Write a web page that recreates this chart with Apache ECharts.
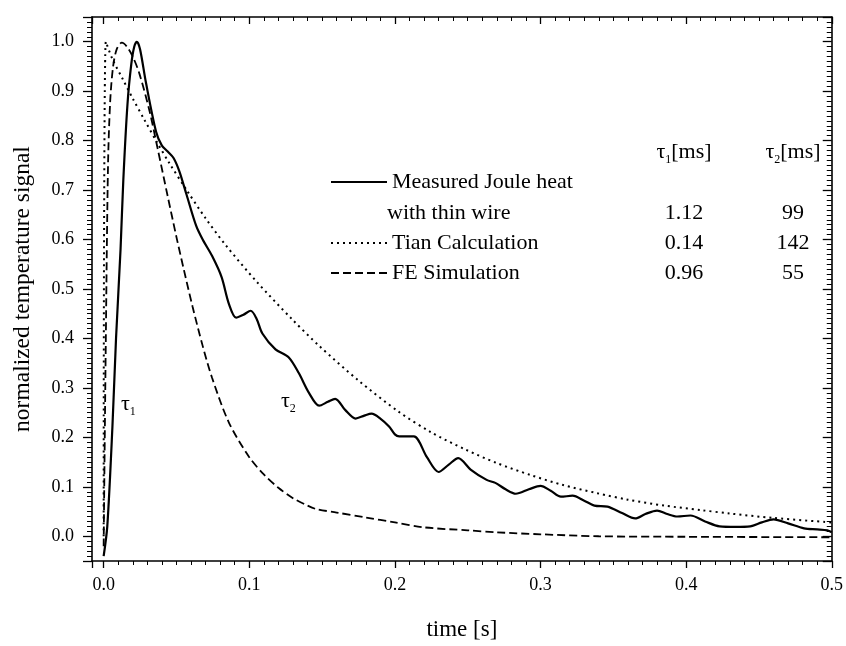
<!DOCTYPE html>
<html><head><meta charset="utf-8">
<script src="https://cdn.jsdelivr.net/npm/echarts@6/dist/echarts.min.js"></script>
<style>html,body{margin:0;padding:0;background:#fff}#c{width:846px;height:646px}</style>
</head><body><div id="c"></div>
<script>
// ---- data ----
const measuredT = [0, 0.0025, 0.006, 0.0085, 0.0116, 0.0135, 0.0164, 0.019, 0.021, 0.0228, 0.025, 0.029, 0.036, 0.040, 0.044, 0.048, 0.052, 0.057, 0.0635, 0.068, 0.0746, 0.081, 0.086, 0.091, 0.096, 0.101, 0.105, 0.109, 0.118, 0.127, 0.134, 0.141, 0.148, 0.154, 0.159, 0.166, 0.173, 0.179, 0.184, 0.19, 0.196, 0.2, 0.203, 0.213, 0.222, 0.23, 0.237, 0.2435, 0.252, 0.263, 0.269, 0.276, 0.283, 0.292, 0.30, 0.307, 0.314, 0.322, 0.33, 0.337, 0.346, 0.356, 0.365, 0.372, 0.380, 0.387, 0.394, 0.403, 0.413, 0.423, 0.434, 0.444, 0.452, 0.460, 0.47, 0.481, 0.49, 0.497, 0.5];
const measuredV = [-0.04, 0.02, 0.22, 0.40, 0.58, 0.72, 0.875, 0.955, 0.99, 1.0, 0.985, 0.918, 0.818, 0.79, 0.778, 0.765, 0.738, 0.69, 0.628, 0.6, 0.566, 0.524, 0.47, 0.442, 0.448, 0.456, 0.44, 0.41, 0.378, 0.362, 0.33, 0.29, 0.264, 0.272, 0.278, 0.255, 0.238, 0.244, 0.248, 0.238, 0.222, 0.206, 0.202, 0.202, 0.16, 0.13, 0.145, 0.158, 0.135, 0.114, 0.108, 0.095, 0.086, 0.095, 0.102, 0.092, 0.08, 0.082, 0.072, 0.062, 0.06, 0.047, 0.036, 0.045, 0.052, 0.045, 0.04, 0.042, 0.03, 0.02, 0.019, 0.02, 0.028, 0.034, 0.026, 0.016, 0.014, 0.012, 0.008];

const tianT = [0, 0.0015, 0.006, 0.013, 0.02, 0.028, 0.036, 0.045, 0.057, 0.07, 0.084, 0.105, 0.129, 0.148, 0.175, 0.2025, 0.225, 0.248, 0.27, 0.293, 0.315, 0.339, 0.36, 0.385, 0.41, 0.43, 0.46, 0.5];
const tianV = [0.0, 1.0, 0.965, 0.925, 0.885, 0.842, 0.8, 0.755, 0.7, 0.643, 0.588, 0.515, 0.44, 0.385, 0.315, 0.252, 0.21, 0.176, 0.148, 0.124, 0.104, 0.087, 0.074, 0.062, 0.053, 0.046, 0.037, 0.028];

const feT = [0, 0.0015, 0.003, 0.0045, 0.0065, 0.009, 0.0125, 0.016, 0.02, 0.0246, 0.0315, 0.037, 0.0438, 0.05, 0.055, 0.061, 0.068, 0.0745, 0.086, 0.1, 0.11, 0.12, 0.13, 0.14, 0.146, 0.16, 0.18, 0.2, 0.22, 0.25, 0.27, 0.3, 0.34, 0.4, 0.5];
const feV = [-0.02, 0.40, 0.75, 0.88, 0.95, 0.985, 0.998, 0.99, 0.97, 0.935, 0.86, 0.785, 0.69, 0.605, 0.54, 0.465, 0.385, 0.32, 0.23, 0.16, 0.125, 0.098, 0.077, 0.062, 0.055, 0.048, 0.038, 0.028, 0.018, 0.012, 0.008, 0.004, 0.0, -0.001, -0.002];

const seriesNames = ['Measured Joule heat', 'Tian Calculation', 'FE Simulation'];
const tableHeaders = ['τ1[ms]', 'τ2[ms]'];
const tau1Values = ['1.12', '0.14', '0.96'];
const tau2Values = ['99', '142', '55'];
const xName = 'time [s]';
const yName = 'normalized temperature signal';

// ---- chart ----
const FONT = "'Liberation Serif', 'Times New Roman', serif";
const zip = (a, b) => a.map((v, i) => [v, b[i]]);
const chart = echarts.init(document.getElementById('c'), null, {renderer: 'canvas'});

const fmt = v => (Math.abs(v * 10 - Math.round(v * 10)) < 1e-6) ? v.toFixed(1) : '';

const common = {
  axisLine: {show: true, onZero: false, lineStyle: {color: '#000', width: 1.6}},
  splitLine: {show: false},
  minorTick: {show: true, splitNumber: 10, length: 4, lineStyle: {color: '#000', width: 1}},
  axisTick: {show: true, length: 8, lineStyle: {color: '#000', width: 1.3}}
};

const xBase = {type: 'value', min: -0.008, max: 0.5, splitNumber: 5, minInterval: 0.1, maxInterval: 0.1};
const yBase = {type: 'value', min: -0.05, max: 1.05, splitNumber: 11, minInterval: 0.1, maxInterval: 0.1};

function tauRich(t) {
  return '{a|τ}{s|' + t.charAt(1) + '}{a|' + t.slice(2) + '}';
}
const rich = {
  a: {fontSize: 22, fontFamily: FONT, fill: '#000', lineHeight: 28, verticalAlign: 'middle'},
  s: {fontSize: 12, fontFamily: FONT, fill: '#000', lineHeight: 14, verticalAlign: 'bottom'}
};

const graphics = [];
function txt(text, x, y, align) {
  graphics.push({type: 'text', x: x, y: y, silent: true,
    style: {text: text, font: '22px ' + FONT, fill: '#000', align: align || 'left', verticalAlign: 'middle'}});
}
function richTxt(text, x, y, align) {
  graphics.push({type: 'text', x: x, y: y, silent: true,
    style: {text: text, rich: rich, fill: '#000', font: '22px ' + FONT, align: align || 'left', verticalAlign: 'middle'}});
}
// table
const col1 = 684, col2 = 793;
const rowY = [152, 182, 213, 243, 273];
richTxt(tauRich(tableHeaders[0]), col1, rowY[0], 'center');
richTxt(tauRich(tableHeaders[1]), col2, rowY[0], 'center');
txt('with thin wire', 387, rowY[2]);
txt(tau1Values[0], col1, rowY[2], 'center');
txt(tau2Values[0], col2, rowY[2], 'center');
txt(tau1Values[1], col1, rowY[3], 'center');
txt(tau2Values[1], col2, rowY[3], 'center');
txt(tau1Values[2], col1, rowY[4], 'center');
txt(tau2Values[2], col2, rowY[4], 'center');
// curve annotations
richTxt('{a|τ}{s|1}', 121, 404, 'left');
richTxt('{a|τ}{s|2}', 281, 401, 'left');

function legendAt(name, top) {
  return {data: [name], left: 330, top: top, padding: 0, itemWidth: 56, itemHeight: 14,
    selectedMode: false, itemStyle: {opacity: 0},
    textStyle: {fontSize: 22, fontFamily: FONT, color: '#000', padding: [0, 0, 0, 0]}};
}

chart.setOption({
  animation: false,
  backgroundColor: '#fff',
  grid: {left: 92, right: 11, top: 17, bottom: 78, containLabel: false},
  legend: [legendAt(seriesNames[0], rowY[1] - 11), legendAt(seriesNames[1], rowY[3] - 11), legendAt(seriesNames[2], rowY[4] - 11)],
  xAxis: [
    Object.assign({}, xBase, common, {position: 'bottom', name: xName, nameLocation: 'middle', nameGap: 57,
      nameTextStyle: {fontSize: 23, fontFamily: FONT, color: '#000'},
      axisTick: Object.assign({}, common.axisTick, {length: 7}),
      minorTick: Object.assign({}, common.minorTick, {length: 4}),
      axisLabel: {formatter: fmt, fontSize: 18, fontFamily: FONT, color: '#000', margin: 15, showMinLabel: true}}),
    Object.assign({}, xBase, common, {position: 'top', axisLabel: {show: false},
      axisTick: Object.assign({}, common.axisTick, {inside: true, length: 7}),
      minorTick: Object.assign({}, common.minorTick, {length: 4})})
  ],
  yAxis: [
    Object.assign({}, yBase, common, {position: 'left', name: yName, nameLocation: 'middle', nameGap: 57,
      nameTextStyle: {fontSize: 23.5, fontFamily: FONT, color: '#000'},
      axisTick: Object.assign({}, common.axisTick, {length: 9}),
      minorTick: Object.assign({}, common.minorTick, {length: 5}),
      axisLabel: {formatter: fmt, fontSize: 18, fontFamily: FONT, color: '#000', margin: 18}}),
    Object.assign({}, yBase, common, {position: 'right', axisLabel: {show: false},
      axisTick: Object.assign({}, common.axisTick, {inside: true, length: 9}),
      minorTick: Object.assign({}, common.minorTick, {length: 5})})
  ],
  series: [
    {name: seriesNames[0], type: 'line', data: zip(measuredT, measuredV), symbol: 'none', smooth: 0.3,
      lineStyle: {color: '#000', width: 2.2, type: 'solid'}, itemStyle: {color: '#000'}, z: 5},
    {name: seriesNames[1], type: 'line', data: zip(tianT, tianV), symbol: 'none', smooth: 0.3,
      lineStyle: {color: '#000', width: 2, type: [2, 4]}, itemStyle: {color: '#000'}},
    {name: seriesNames[2], type: 'line', data: zip(feT, feV), symbol: 'none', smooth: 0.3,
      lineStyle: {color: '#000', width: 1.8, type: [8, 4]}, itemStyle: {color: '#000'}}
  ],
  graphic: graphics
});
</script>
</body></html>
